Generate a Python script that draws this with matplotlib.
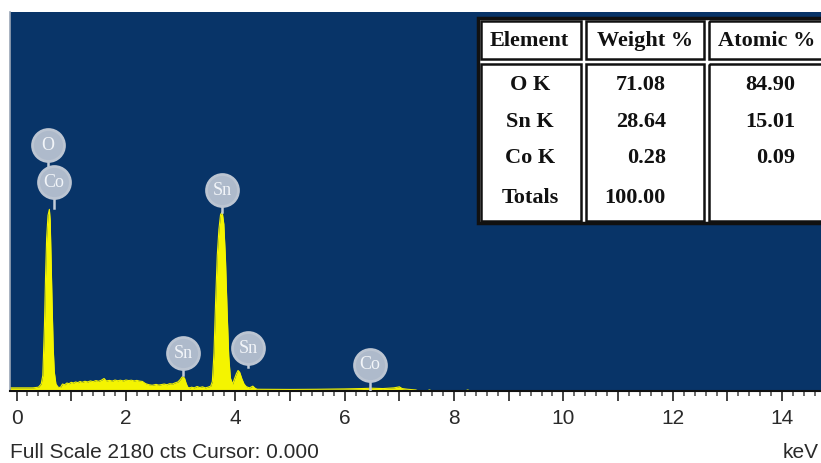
import matplotlib
matplotlib.use("Agg")
import matplotlib.pyplot as plt
from matplotlib.patches import Rectangle
from matplotlib.ticker import MultipleLocator, FuncFormatter

# EDS spectrum, energy (keV) vs counts
energy_kev = [-0.12, 0.30, 0.40, 0.45, 0.48, 0.51, 0.53, 0.55, 0.575, 0.60, 0.615, 0.63, 0.65,
              0.67, 0.69, 0.72, 0.76, 0.80, 0.84, 0.88, 0.92, 0.96, 1.00, 1.04, 1.08, 1.12,
              1.16, 1.20, 1.25, 1.30, 1.35, 1.40, 1.45, 1.50, 1.55, 1.60, 1.64, 1.70, 1.75,
              1.80, 1.85, 1.90, 1.95, 2.00, 2.05, 2.10, 2.15, 2.20, 2.25, 2.30, 2.36, 2.42,
              2.48, 2.55, 2.60, 2.65, 2.70, 2.75, 2.80, 2.85, 2.90, 2.95, 2.99, 3.03, 3.07,
              3.10, 3.13, 3.17, 3.20, 3.25, 3.30, 3.35, 3.40, 3.45, 3.50, 3.55, 3.58, 3.61,
              3.64, 3.67, 3.70, 3.73, 3.76, 3.79, 3.82, 3.85, 3.88, 3.91, 3.95, 3.99, 4.02,
              4.05, 4.08, 4.12, 4.16, 4.20, 4.26, 4.32, 4.36, 4.40, 5.00, 5.50, 6.00, 6.30,
              6.50, 6.70, 6.90, 7.00, 7.05, 7.15, 7.30, 7.35, 7.50, 7.55, 7.60, 8.20, 8.25,
              8.30, 14.71]
counts = [18, 18, 22, 40, 90, 380, 660, 880, 1010, 1045, 980, 780, 500,
          250, 110, 40, 22, 20, 40, 36, 46, 42, 50, 46, 52, 48,
          55, 50, 56, 52, 58, 54, 60, 56, 62, 72, 58, 61, 57,
          63, 59, 62, 58, 63, 60, 62, 58, 61, 57, 55, 42, 36,
          33, 38, 34, 37, 40, 36, 42, 40, 47, 52, 65, 82, 75,
          45, 22, 18, 22, 18, 26, 20, 24, 18, 22, 28, 55, 220,
          520, 780, 930, 1015, 1030, 960, 760, 460, 200, 75, 40, 75, 100,
          118, 108, 70, 40, 25, 18, 28, 16, 10, 9, 10, 12, 14,
          16, 14, 18, 24, 14, 10, 6, 0, 0, 6, 0, 0, 6,
          0, 0]

# element markers: name, energy, marker centre and stem end (counts)
marker_names = ["O", "Co", "Sn", "Sn", "Sn", "Co"]
marker_energy = [0.57, 0.68, 3.76, 3.05, 4.23, 6.46]
marker_level = [1414, 1202, 1156, 218, 247, 150]
marker_stem_end = [1202, 1050, 1030, 90, 138, 8]

# quantification table
tbl_header = ["Element", "Weight %", "Atomic %"]
tbl_elements = ["O K", "Sn K", "Co K", "Totals"]
tbl_weight = ["71.08", "28.64", "0.28", "100.00"]
tbl_atomic = ["84.90", "15.01", "0.09", ""]

full_scale = 2180

blue = "#083468"
yellow = "#f4f400"

fig = plt.figure(figsize=(8.21, 4.63), dpi=100)
ax = fig.add_axes([10 / 821, 72 / 463, 811 / 821, 379 / 463])
ax.set_facecolor(blue)
ax.set_xlim(-0.12, 14.71)
ax.set_ylim(0, full_scale)

ax.fill_between(energy_kev, counts, 0, color=yellow, lw=0, zorder=2)
ax.plot(energy_kev, counts, color=yellow, lw=0.8, zorder=2)

for name, e, lvl, end in zip(marker_names, marker_energy, marker_level, marker_stem_end):
    ax.plot([e, e], [end, lvl], color="#c3ccd8", lw=1.8, zorder=3)
    ax.plot(e, lvl, "o", ms=23, mfc="#aebacb", mec="#bcc5d2", mew=2, zorder=4)
    ax.text(e, lvl, name, ha="center", va="center", color="#f2f5f9",
            fontsize=13, family="Liberation Serif", zorder=5)

ax.xaxis.set_major_locator(MultipleLocator(1))
ax.xaxis.set_minor_locator(MultipleLocator(0.2))
ax.xaxis.set_major_formatter(FuncFormatter(lambda v, p: f"{v:.0f}" if round(v) % 2 == 0 else ""))
ax.tick_params(axis="x", which="major", direction="out", length=7, width=1.3,
               color="#333333", labelsize=15, pad=6, labelcolor="#2a2a2a")
ax.tick_params(axis="x", which="minor", direction="out", length=3.5, width=1.1, color="#444444")
ax.set_yticks([])
for lab in ax.get_xticklabels():
    lab.set_family("Liberation Sans")
for s in ["top", "right"]:
    ax.spines[s].set_visible(False)
ax.spines["bottom"].set_color("#111111")
ax.spines["bottom"].set_linewidth(1.5)
ax.spines["left"].set_color("#9aa6b6")
ax.spines["left"].set_linewidth(1.2)

fig.text(10 / 821, 11 / 463, f"Full Scale {full_scale} cts Cursor: 0.000", fontsize=15,
         family="Liberation Sans", color="#2a2a2a", ha="left", va="center")
fig.text(819 / 821, 11 / 463, "keV", fontsize=15, family="Liberation Sans",
         color="#2a2a2a", ha="right", va="center")

# table drawn in pixel coordinates on an overlay
tax = fig.add_axes([0, 0, 1, 1])
tax.set_xlim(0, 821)
tax.set_ylim(463, 0)
tax.axis("off")
tax.patch.set_alpha(0)

col_x = [478, 583, 706, 840]
row_y = [18, 61, 223]
tax.add_patch(Rectangle((col_x[0], row_y[0]), col_x[-1] - col_x[0], row_y[-1] - row_y[0],
                        facecolor="white", edgecolor="#111111", lw=2.5))
for i in range(3):
    for j in range(2):
        tax.add_patch(Rectangle((col_x[i] + 2.5, row_y[j] + 2.5),
                                col_x[i + 1] - col_x[i] - 5, row_y[j + 1] - row_y[j] - 5,
                                facecolor="none", edgecolor="#111111", lw=1.8))

tfont = dict(family="Liberation Serif", fontweight="bold", fontsize=16, color="#111111", va="center")
for txt, cx in zip(tbl_header, [529, 645, 767]):
    tax.text(cx, 41, txt, ha="center", **tfont)
row_centres = [85, 122, 158, 198]
for y, el, w, a in zip(row_centres, tbl_elements, tbl_weight, tbl_atomic):
    tax.text(530, y, el, ha="center", **tfont)
    tax.text(666, y, w, ha="right", **tfont)
    tax.text(795, y, a, ha="right", **tfont)

fig.savefig("out.png", dpi=100, facecolor="white")
